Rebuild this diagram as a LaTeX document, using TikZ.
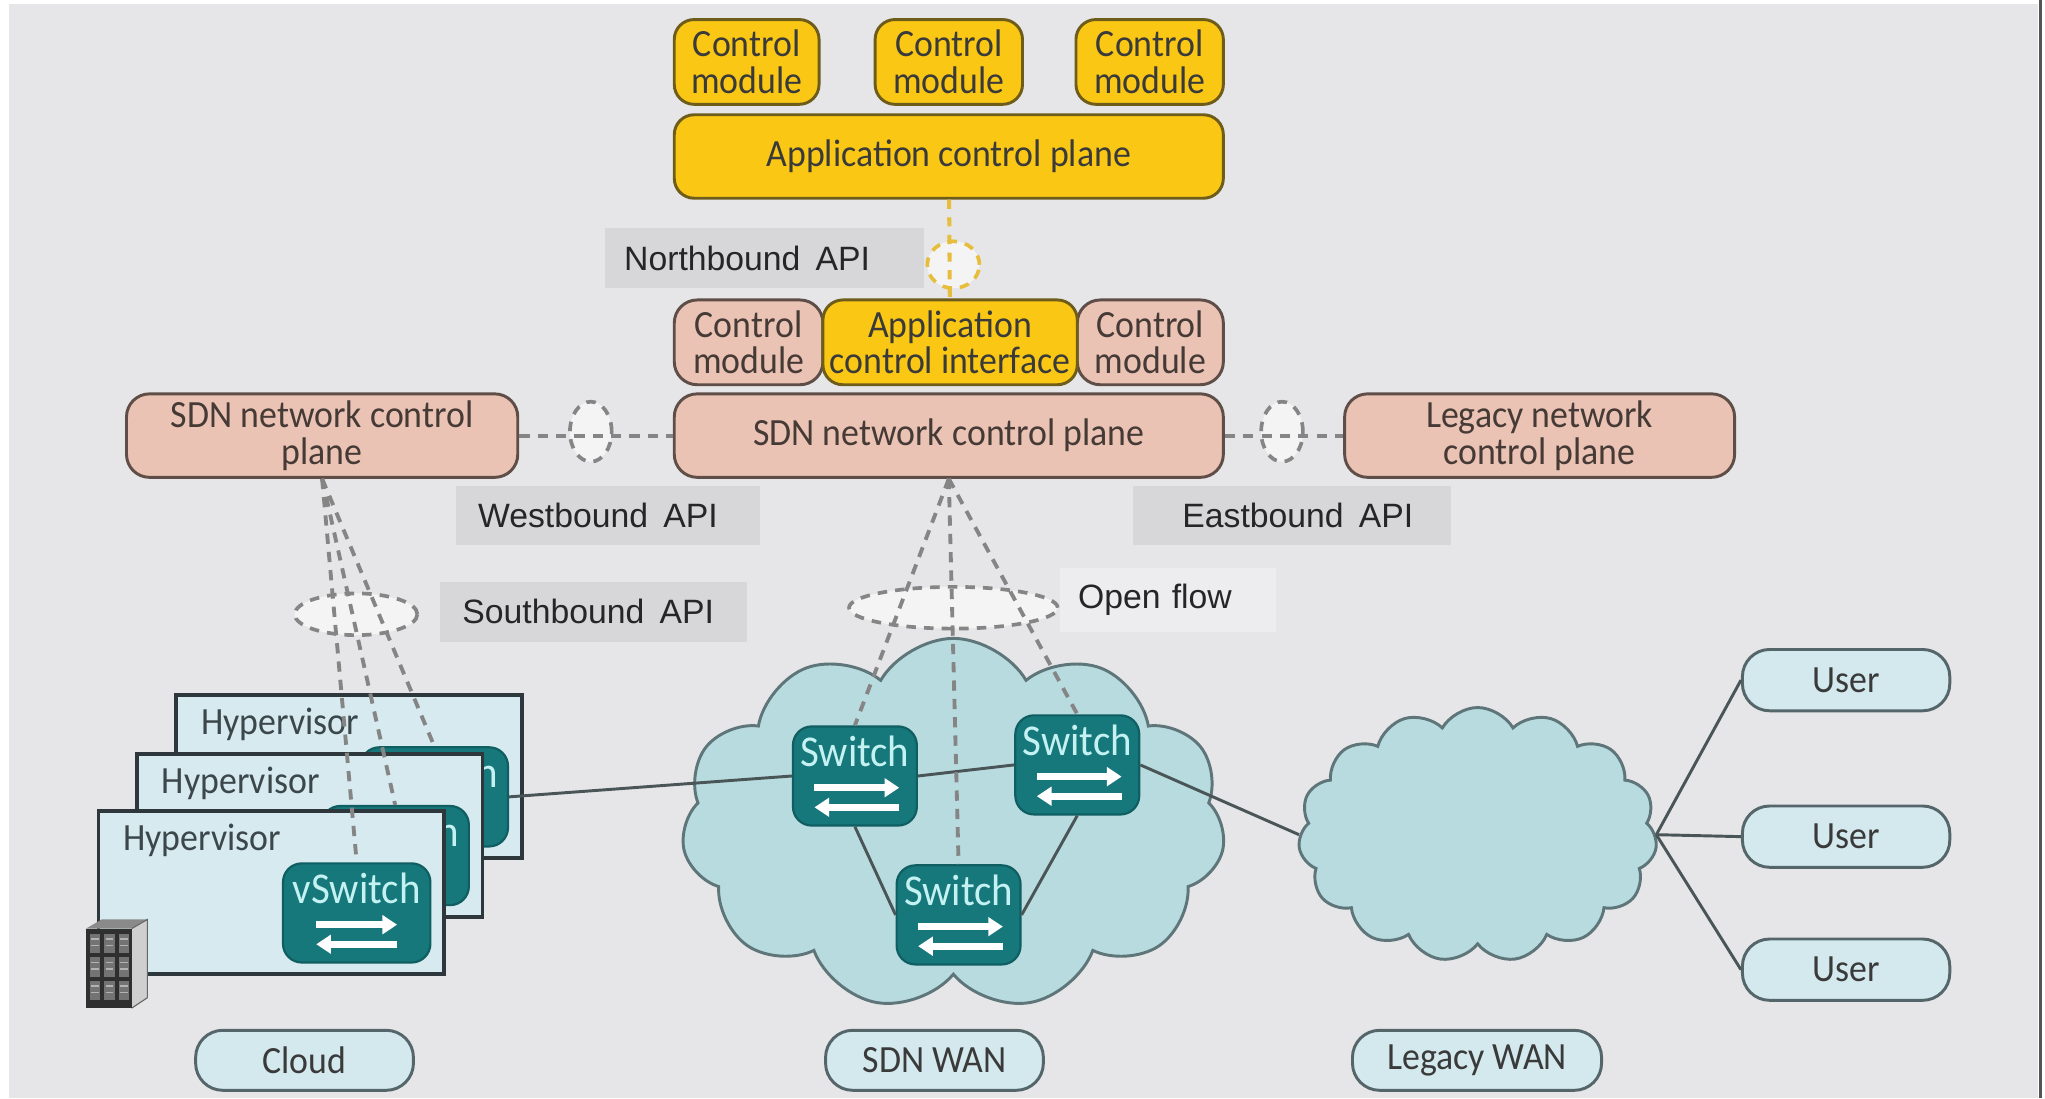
\documentclass[tikz,border=0pt]{standalone}
\usepackage{fontspec}
\setmainfont{Carlito}
\newfontfamily\boxfont{Carlito}[FakeStretch=0.93]
\newfontfamily\apifont{Liberation Sans}
\usetikzlibrary{shapes.geometric,shapes.symbols,arrows.meta,calc}

\definecolor{bggray}{HTML}{E6E6E8}
\definecolor{edgegray}{HTML}{555555}
\definecolor{lblgray}{HTML}{D7D7D9}
\definecolor{ofwhite}{HTML}{EDEDEF}
\definecolor{yfill}{HTML}{FAC814}
\definecolor{yborder}{HTML}{6E5C1A}
\definecolor{pfill}{HTML}{EAC3B4}
\definecolor{pborder}{HTML}{5F4D47}
\definecolor{cfill}{HTML}{D3E9EE}
\definecolor{cborder}{HTML}{55666A}
\definecolor{cloudfill}{HTML}{B8DBDF}
\definecolor{cloudborder}{HTML}{5E7579}
\definecolor{swteal}{HTML}{17787C}
\definecolor{swtealdark}{HTML}{0F5E62}
\definecolor{swtext}{HTML}{C4F1F1}
\definecolor{hypfill}{HTML}{D6EAEF}
\definecolor{hypborder}{HTML}{2E383C}
\definecolor{hyptextc}{HTML}{3C474B}
\definecolor{textdark}{HTML}{3A3A3A}
\definecolor{pinktext}{HTML}{463A36}
\definecolor{dashgray}{HTML}{858585}
\definecolor{nbyellow}{HTML}{E6BE3C}
\definecolor{linkgray}{HTML}{4A5558}
\definecolor{srvdark}{HTML}{2F2F2F}
\definecolor{srvside}{HTML}{CFCFCF}
\definecolor{srvtop}{HTML}{8A8A8A}

\begin{document}
\begin{tikzpicture}[x=0.0125cm, y=-0.0125cm,
  sz/.style 2 args={minimum width=#1*0.0125cm, minimum height=#2*0.0125cm},
  boxtext/.style={font=\boxfont\fontsize{10.5}{10}\selectfont, align=center, inner sep=0pt},
  ybox/.style={boxtext, draw=yborder, fill=yfill, rounded corners=1.9mm, line width=0.8pt, text=textdark},
  pbox/.style={boxtext, draw=pborder, fill=pfill, rounded corners=2.2mm, line width=0.8pt, text=pinktext},
  cbox/.style={boxtext, draw=cborder, fill=cfill, rounded corners=2.6mm, line width=0.8pt, text=textdark},
  hyper/.style={draw=hypborder, fill=hypfill, line width=1pt, inner sep=0pt},
  hyptext/.style={font=\boxfont\fontsize{10.5}{10}\selectfont, text=hyptextc, inner sep=0pt, anchor=west},
  swbox/.style={fill=swteal, draw=swtealdark, line width=0.6pt, rounded corners=1.8mm, inner sep=0pt,
    font=\boxfont\fontsize{12}{12}\selectfont, text=swtext},
  flowarrow/.style={draw=white, line width=2pt, -{Triangle[length=4pt,width=5pt]}},
  cloudy/.style={cloud, cloud ignores aspect, draw=cloudborder, fill=cloudfill, line width=0.8pt, inner sep=0pt},
  apilabel/.style={fill=lblgray, anchor=west, inner ysep=0pt, align=left,
    font=\apifont\fontsize{9.2}{11}\selectfont, text=black!85},
  apiring/.style={ellipse, draw=dashgray, fill=white!55!bggray, line width=1pt,
    dash pattern=on 2.6pt off 2.2pt, inner sep=0pt},
  dashlink/.style={draw=dashgray, line width=1.05pt, dash pattern=on 2.8pt off 2.2pt},
  nblink/.style={draw=nbyellow, line width=1.1pt, dash pattern=on 2.5pt off 2.3pt},
  link/.style={draw=linkgray, line width=0.8pt},
]
\useasboundingbox (0,0) rectangle (1568,842);

% page background and right rule
\fill[white] (0,0) rectangle (1568,842);
\fill[bggray] (7,3) rectangle (1563,842);
\draw[edgegray, line width=0.6pt] (1564.5,0) -- (1564.5,842);

% API labels
\node[apilabel, inner xsep=0.1875cm, text width=2.6875cm, minimum height=0.575cm] (nbl) at (463,198) {\mbox{Northbound\hspace{0.45em}API}};
\node[apilabel, inner xsep=0.2125cm, text width=2.4875cm, minimum height=0.5625cm] (wbl) at (349,395.5) {\mbox{Westbound\hspace{0.45em}API}};
\node[apilabel, inner xsep=0.475cm, text width=2.1cm, minimum height=0.5625cm] (ebl) at (868,395.5) {\mbox{Eastbound\hspace{0.45em}API}};
\node[apilabel, inner xsep=0.2125cm, text width=2.5125cm, minimum height=0.575cm] (sbl) at (337,469) {\mbox{Southbound\hspace{0.45em}API}};
\node[apilabel, fill=ofwhite, inner xsep=0.175cm, text width=1.725cm, minimum height=0.6125cm] (ofl) at (812,460) {\mbox{Open flow}};

% API rings
\node[apiring, draw=nbyellow, sz={40}{36}] (nbe) at (731,203) {};
\node[apiring, sz={32}{46}] (wbe) at (453,331) {};
\node[apiring, sz={32}{46}] (ebe) at (983,331) {};
\node[apiring, sz={94}{32}] (sbe) at (273,471) {};
\node[apiring, sz={160}{32}] (ofe) at (731,466) {};

% application control layer
\node[ybox, sz={111}{65}] (cm1) at (572.5,47.5) {Control\\module};
\node[ybox, sz={113}{65}] (cm2) at (727.5,47.5) {Control\\module};
\node[ybox, sz={113}{65}] (cm3) at (881.5,47.5) {Control\\module};
\node[ybox, sz={421}{64}] (acp) at (727.5,120) {Application control plane};

% network control layer
\node[pbox, sz={114}{65}] (cm4) at (574,262.5) {Control\\module};
\node[pbox, sz={112}{65}] (cm5) at (882,262.5) {Control\\module};
\node[ybox, sz={195}{65}] (aci) at (728.5,262.5) {Application\\control interface};
\node[pbox, sz={421}{64}] (sdnc) at (727.5,334) {SDN network control plane};
\node[pbox, sz={300}{64}] (sdnl) at (247,334) {SDN network control\\plane};
\node[pbox, sz={299}{64}] (lncp) at (1180.5,334) {Legacy network\\control plane};

% API connectors
\draw[nblink] (acp) -- (aci);
\draw[dashlink] (sdnl) -- (sdnc);
\draw[dashlink] (sdnc) -- (lncp);

% wide area networks
\node[cloudy, cloud puffs=11, cloud puff arc=120, sz={417}{285}] (sdncloud) at (731,632) {};
\node[cloudy, cloud puffs=15, cloud puff arc=120, sz={275}{195}] (lcloud) at (1133,640) {};

% SDN switches
\node[swbox, sz={95}{76}] (sw1) at (655.5,595) {\smash{\raisebox{2.6pt}{Switch}}};
\node[swbox, sz={95}{76}] (sw2) at (826,586.5) {\smash{\raisebox{2.6pt}{Switch}}};
\node[swbox, sz={95}{76}] (sw3) at (735,701.5) {\smash{\raisebox{2.6pt}{Switch}}};
\foreach \s in {sw1,sw2,sw3} {
  \draw[flowarrow] ($(\s.center)+(-31,9)$) -- ($(\s.center)+(34,9)$);
  \draw[flowarrow] ($(\s.center)+(34,24)$) -- ($(\s.center)+(-31,24)$);
}

% stacked hypervisors, back to front
\foreach \i/\hx/\hy in {1/267.5/595.5, 2/237.5/640.5, 3/208/684.5} {
  \node[hyper, sz={265}{125}] (hyp\i) at (\hx,\hy) {};
  \node[hyptext] (hyplabel\i) at ($(hyp\i.north west)+(20,24)$) {Hypervisor};
  \node[swbox, sz={113}{76}] (vs\i) at ($(hyp\i.center)+(65.5,15.5)$) {\smash{\raisebox{2.6pt}{vSwitch}}};
  \draw[flowarrow] ($(vs\i.center)+(-31,9)$) -- ($(vs\i.center)+(31,9)$);
  \draw[flowarrow] ($(vs\i.center)+(31,24)$) -- ($(vs\i.center)+(-31,24)$);
}

% server rack
\fill[srvtop] (66,712) -- (78,705) -- (113,705) -- (101,712) -- cycle;
\fill[srvside] (101,712) -- (113,705) -- (113,765) -- (101,773) -- cycle;
\draw[black!60, line width=0.3pt] (101,712) -- (113,705) -- (113,765) -- (101,773);
\fill[srvdark] (66,712) rectangle (101,773);
\foreach \yy in {716,734,752} {
  \foreach \xx in {69,80,91} {
    \fill[black!55] (\xx,\yy) rectangle ++(8,15);
    \draw[black!30, line width=0.3pt] (\xx+1,\yy+4) -- ++(6,0) (\xx+1,\yy+9) -- ++(6,0);
  }
}

% data links
\draw[link] (vs1.east) -- (sw1.west);
\draw[link] (sw1.east) -- (sw2.west);
\draw[link] (sw2.east) -- (lcloud.west);
\draw[link] (sw1.south) -- (sw3.west);
\draw[link] (sw2.south) -- (sw3.east);

% users
\node[cbox, sz={159}{47}] (u1) at (1415.5,521.5) {User};
\node[cbox, sz={159}{47}] (u2) at (1415.5,641.5) {User};
\node[cbox, sz={159}{47}] (u3) at (1415.5,743.5) {User};
\draw[link] (lcloud.east) -- (u1.west);
\draw[link] (lcloud.east) -- (u2.west);
\draw[link] (lcloud.east) -- (u3.west);

% domain captions
\node[cbox, sz={167}{46}] (capcloud) at (233.5,813) {Cloud};
\node[cbox, sz={167}{46}] (capsdn) at (716.5,813) {SDN WAN};
\node[cbox, sz={191}{46}] (capleg) at (1132.5,813) {Legacy WAN};

% southbound and OpenFlow control channels
\draw[dashlink] (sdnl.south) -- (vs3.north);
\draw[dashlink] (sdnl.south) -- (vs2.north);
\draw[dashlink] (sdnl.south) -- (vs1.north);
\draw[dashlink] (sdnc.south) -- (sw1.north);
\draw[dashlink] (sdnc.south) -- (sw3.north);
\draw[dashlink] (sdnc.south) -- (sw2.north);
\end{tikzpicture}
\end{document}
